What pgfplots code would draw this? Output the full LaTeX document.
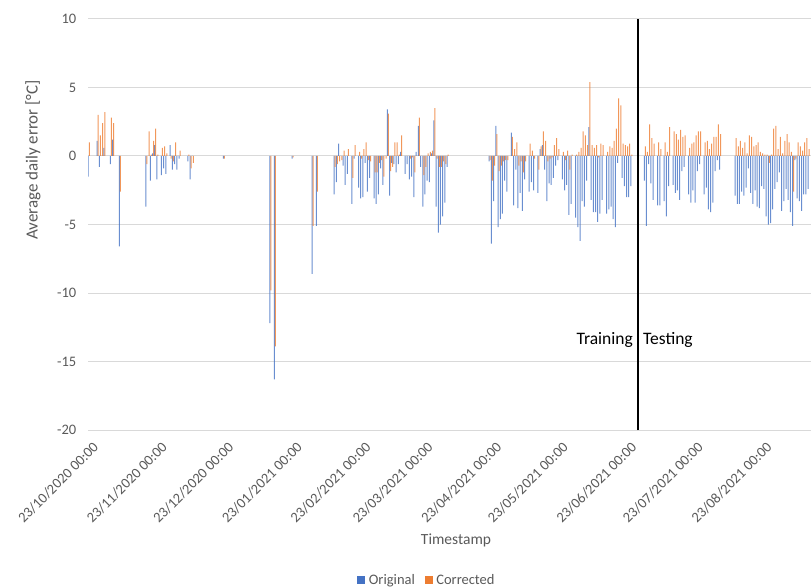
\documentclass[border=0pt]{standalone}
\usepackage{fontspec}
\setmainfont{Carlito}
\usepackage{pgfplots}
\pgfplotsset{compat=1.18}
\usepackage{pgfplotstable}
\definecolor{xblue}{HTML}{4472C4}
\definecolor{xorange}{HTML}{ED7D31}
\definecolor{xgrid}{HTML}{D9D9D9}
\definecolor{xtext}{HTML}{595959}

\pgfplotstableread{
day orig corr
-1 -1.5 1.0
3 1.1 3.0
4 -0.8 1.5
5 0.0 2.4
6 0.6 3.2
9 -0.6 2.8
10 1.2 2.4
13 -6.6 -2.6
25 -3.7 -0.6
26 0.0 1.8
27 -1.8 0.1
28 0.2 1.1
29 0.8 2.0
30 -1.7 0.1
32 -1.4 0.6
33 -0.9 0.7
34 -1.3 0.2
36 0.8 -0.2
37 -1.0 -0.4
38 -0.6 1.0
39 -1.0 0.0
40 -0.2 0.4
44 -0.4 0.1
45 -1.7 -0.9
46 0.0 -0.5
60 -0.2 -0.2
81 -12.2 -9.8
83 -16.3 -13.9
91 -0.2 -0.1
100 -8.6 -5.1
102 -5.1 -2.6
110 -2.8 -0.8
111 -1.9 -0.6
112 0.9 -0.4
113 0.0 -0.3
114 -0.7 0.4
115 -2.1 0.0
116 -1.3 0.5
118 -3.5 -1.6
119 -0.2 0.8
121 -2.3 0.3
122 -3.1 -0.2
123 -3.0 0.5
124 -0.5 1.0
125 -2.6 -0.3
126 -1.6 -0.4
128 -3.1 -1.2
129 -3.5 -1.2
130 -2.8 -0.5
131 -0.9 -0.3
132 -2.1 -1.5
133 0.0 -0.2
134 3.4 3.1
135 -2.9 -1.1
136 -0.5 -0.8
137 -0.6 1.0
138 -1.2 1.0
139 -0.6 0.1
140 0.3 1.5
142 -1.3 0.0
143 -0.6 0.0
144 -1.7 -0.2
145 -1.5 -0.1
146 -3.0 -1.2
147 0.3 0.0
148 2.2 2.8
149 -0.8 0.0
150 -3.7 -1.4
151 -2.8 -0.8
152 -1.8 0.2
153 -1.9 0.3
154 0.2 0.4
155 2.6 3.5
156 -3.7 -0.2
157 -5.6 -0.8
158 -5.0 -0.8
159 -4.4 -0.4
160 -3.4 -0.6
161 -0.8 0.1
180 -0.4 -0.3
181 -6.4 -1.8
182 -3.3 -0.7
183 2.2 1.6
184 -5.2 -1.1
185 -4.6 -0.7
186 -4.2 -0.4
187 -1.8 -0.3
188 -2.6 -0.3
190 1.7 1.4
191 -3.6 0.5
192 -1.0 1.0
193 -3.8 -0.7
194 -2.7 -0.4
195 -4.0 -1.2
196 -1.7 -0.4
198 -2.6 0.9
199 -1.9 0.4
200 -2.5 -0.2
202 -2.7 -1.0
203 0.5 0.7
204 0.8 1.8
205 -1.0 1.1
206 -3.3 -0.4
207 -2.0 -0.2
208 -2.1 -0.1
209 -1.6 0.8
210 -0.7 1.3
211 -0.3 0.5
213 -1.7 0.3
214 -2.5 -0.3
215 -2.1 0.4
216 -4.3 -1.0
217 -3.5 0.1
219 -4.5 0.1
220 -5.2 0.3
221 -6.2 0.6
222 -3.3 1.8
223 -3.7 1.5
224 -1.8 0.8
225 2.1 5.4
226 -3.2 0.8
227 -4.1 0.6
228 -4.1 0.8
229 -4.8 -0.1
230 -4.2 0.9
231 -3.2 0.8
233 -4.2 0.3
234 -3.9 0.7
235 -3.7 0.6
236 -4.6 1.1
237 -5.2 2.0
238 -0.5 4.2
239 0.0 3.7
240 -1.6 0.9
241 -2.2 0.8
242 -3.0 0.7
243 -3.0 0.9
244 -2.2 0.1
250 -1.8 0.7
251 -5.1 0.3
252 -0.6 2.3
253 -2.0 1.3
254 -3.2 0.9
256 -3.6 1.0
257 -3.6 0.5
259 -3.3 1.0
260 -4.4 0.3
261 -2.2 2.1
263 -2.1 1.8
264 -2.7 1.6
265 -2.5 1.2
266 -3.2 1.9
267 -1.1 1.4
268 -0.8 1.5
270 -2.8 0.6
271 -3.4 0.9
272 -2.5 1.0
273 -3.4 1.5
274 -1.1 1.8
275 -0.6 1.8
277 -2.8 1.0
278 -2.3 1.1
279 -3.9 0.5
280 -4.1 0.9
281 -3.4 1.4
282 -1.1 1.4
283 -0.3 2.3
284 -1.0 1.6
291 -2.9 1.3
292 -3.5 0.7
293 -3.5 1.1
294 -2.6 0.6
295 -2.9 1.0
296 -2.3 0.2
297 -0.9 1.5
298 -2.7 1.4
299 -3.5 0.7
300 -2.5 0.8
301 -3.7 1.0
302 -3.8 0.3
303 -2.2 0.2
304 -2.4 0.1
305 -4.4 0.1
306 -5.0 -0.5
307 -4.9 0.1
308 -3.9 2.0
309 -2.4 2.2
310 -1.9 0.5
311 -1.2 1.4
312 -4.0 0.2
313 -3.3 1.1
314 -2.4 1.6
315 -3.2 1.0
316 -4.1 0.3
317 -5.1 -2.6
318 -0.3 -0.2
319 -3.1 1.0
320 -3.3 0.7
321 -4.0 0.4
322 -2.8 1.0
323 -2.8 1.3
324 -2.4 0.5
}\errdata

\begin{document}
\begin{tikzpicture}[x=1pt,y=1pt]
\useasboundingbox (0,0) rectangle (811,587);
\begin{axis}[
  at={(88.5pt,157pt)}, anchor=south west,
  scale only axis, width=722.5pt, height=411pt,
  xmin=-1.13, xmax=325.06, ymin=-20, ymax=10,
  axis line style={draw=none},
  major tick length=0pt,
  ymajorgrids, grid style={xgrid, line width=1pt},
  ytick={-20,-15,-10,-5,0,5,10},
  yticklabels={-20,-15,-10,-5,0,5,10},
  xtick={-0.9,30.1,60.1,91.1,122.1,150.1,181.1,211.1,242.1,272.1,303.1},
  xticklabels={23/10/2020 00:00,23/11/2020 00:00,23/12/2020 00:00,23/01/2021 00:00,23/02/2021 00:00,23/03/2021 00:00,23/04/2021 00:00,23/05/2021 00:00,23/06/2021 00:00,23/07/2021 00:00,23/08/2021 00:00},
  every tick label/.append style={font=\fontsize{14.5}{17}\selectfont, text=xtext},
  yticklabel style={anchor=east, inner sep=0pt, xshift=-12pt},
  xticklabel style={xshift=3pt, yshift=-11pt, rotate=45, anchor=north east, inner sep=0pt},
  legend style={at={(axis description cs:0.4685,-0.365)}, anchor=center, draw=none, fill=none,
    font=\fontsize{14.5}{17}\selectfont, text=xtext,
    /tikz/every even column/.append style={column sep=8pt}},
  legend columns=2,
]
\addlegendimage{legend image code/.code={\fill[xblue] (0pt,-3.5pt) rectangle (7pt,3.5pt); \path (9pt,0pt);}}
\addlegendentry{Original}
\addlegendimage{legend image code/.code={\fill[xorange] (0pt,-3.5pt) rectangle (7pt,3.5pt); \path (9pt,0pt);}}
\addlegendentry{Corrected}
\addplot[ybar, bar width=1.0pt, bar shift=-0.5pt, fill=xblue, draw=none, fill opacity=0.8, forget plot] table[x=day,y=orig]{\errdata};
\addplot[ybar, bar width=1.0pt, bar shift=0.5pt, fill=xorange, draw=none, fill opacity=0.8, forget plot] table[x=day,y=corr]{\errdata};
\draw[black, line width=2pt] (axis cs:247,-20) -- (axis cs:247,10);
\end{axis}
\node[rotate=90, text=xtext, font=\fontsize{17}{20}\selectfont] at (33,427) {Average daily error [°C]};
\node[text=xtext, font=\fontsize{15.5}{18}\selectfont] at (456,47) {Timestamp};
\node[anchor=base east, font=\fontsize{17.5}{20}\selectfont, inner sep=0pt] at (633,243) {Training};
\node[anchor=base west, font=\fontsize{17.5}{20}\selectfont, inner sep=0pt] at (643,243) {Testing};
\end{tikzpicture}
\end{document}
